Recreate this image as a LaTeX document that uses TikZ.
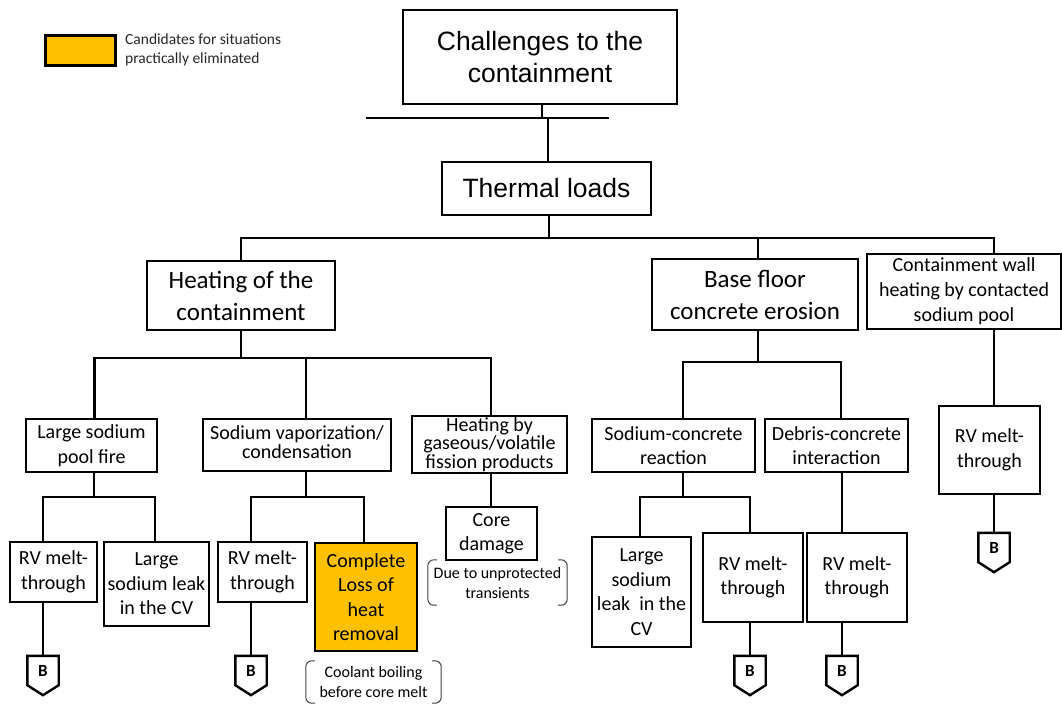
\documentclass[tikz,border=0pt]{standalone}
\usepackage{fontspec}
\setmainfont{Carlito}
\newfontfamily\arialfont{Liberation Sans}
\definecolor{amber}{HTML}{FFC000}
\begin{document}
\begin{tikzpicture}[x=1pt,y=-1pt,
  box/.style={draw, line width=2.8pt, inner sep=0pt, align=center, fill=white},
  small/.style={font=\fontsize{20}{24.5}\selectfont},
  tight/.style={font=\fontsize{20}{17}\selectfont},
  big/.style={font=\fontsize{25}{32}\selectfont},
  arialbig/.style={font=\arialfont\fontsize{26.5}{32}\selectfont},
  conn/.style={line width=2.2pt},
  bnode/.style={inner sep=0pt, minimum width=31pt, minimum height=29pt, font=\fontsize{17}{17}\selectfont\bfseries},
  bline/.style={line width=2.4pt, line join=miter},
  notetext/.style={inner sep=0pt, align=center, font=\fontsize{16}{20}\selectfont},
  bracket/.style={line width=1pt, draw=black!75, rounded corners=6pt},
  legendbox/.style={draw, line width=3pt, fill=amber, minimum width=70pt, minimum height=30pt, inner sep=0pt},
  legendtext/.style={inner sep=0pt, align=left, font=\fontsize{15.5}{19}\selectfont, text=black!85}
]
\useasboundingbox (0,0) rectangle (1062,704);

% legend
\node[legendbox] (leg) at (80,50) {};
\node[legendtext, anchor=west] (legt) at (125,50) {Candidates for situations\\practically eliminated};

% top levels
\node[box, line width=2.2pt, arialbig, minimum width=274pt, minimum height=94pt] (chal) at (540,57) {Challenges to the\\containment};
\node[box, arialbig, minimum width=209pt, minimum height=53pt] (therm) at (546.5,188.5) {Thermal loads};

\coordinate (barL) at (366,118);
\coordinate (barR) at (609,118);
\draw[conn] (barL) -- (barR);
\draw[conn] ([xshift=2pt]chal.south) -- ([xshift=2pt]chal.south |- barL);
\draw[conn] ([xshift=1.5pt]therm.north) -- ([xshift=1.5pt]therm.north |- barL);

% second level
\node[box, big, minimum width=188pt, minimum height=69pt] (heat) at (241,295.5) {Heating of the\\containment};
\node[box, big, minimum width=206pt, minimum height=71pt] (base) at (755,294.5) {Base floor\\concrete erosion};
\node[box, font=\fontsize{20}{25}\selectfont, minimum width=194pt, minimum height=75pt] (wall) at (964,291.5) {Containment wall\\heating by contacted\\sodium pool};

\coordinate (busA) at (0,238);
\draw[conn] (heat.north) -- (heat.north |- busA) -- ([xshift=30pt]wall.north |- busA) -- ([xshift=30pt]wall.north);
\draw[conn] ([xshift=2.5pt]therm.south) -- ([xshift=2.5pt]therm.south |- busA);
\draw[conn] ([xshift=3pt]base.north) -- ([xshift=3pt]base.north |- busA);

% third level
\node[box, small, minimum width=131pt, minimum height=53pt] (pool) at (91.5,445.5) {Large sodium\\pool fire};
\node[box, tight, minimum width=188pt, minimum height=52pt] (vap) at (297,445) {\raisebox{3pt}{\begin{tabular}{@{}c@{}}Sodium vaporization/\\condensation\end{tabular}}};
\node[box, tight, minimum width=155pt, minimum height=57pt] (gas) at (489.5,444.5) {Heating by\\gaseous/volatile\\fission products};
\node[box, small, minimum width=163pt, minimum height=53pt] (sconc) at (673.5,445.5) {Sodium-concrete\\reaction};
\node[box, small, minimum width=143pt, minimum height=53pt] (debris) at (836.5,445.5) {Debris-concrete\\interaction};

\coordinate (busB) at (0,358);
\draw[conn] (heat.south) -- (heat.south |- busB);
\draw[conn] ([xshift=3pt]pool.north) -- ([xshift=3pt]pool.north |- busB) -- ([xshift=1.5pt]gas.north |- busB) -- ([xshift=1.5pt]gas.north);
\draw[conn] ([xshift=9pt]vap.north) -- ([xshift=9pt]vap.north |- busB);

\coordinate (busC) at (0,362);
\draw[conn] ([xshift=3pt]base.south) -- ([xshift=3pt]base.south |- busC);
\draw[conn] ([xshift=9.5pt]sconc.north) -- ([xshift=9.5pt]sconc.north |- busC) -- ([xshift=4.5pt]debris.north |- busC) -- ([xshift=4.5pt]debris.north);

% fourth level
\node[box, small, minimum width=87pt, minimum height=60pt] (rv1) at (53.5,572) {RV melt-\\through};
\node[box, small, minimum width=105pt, minimum height=84pt] (leak1) at (156.5,584) {Large\\sodium leak\\in the CV};
\node[box, small, minimum width=89pt, minimum height=60pt] (rv2) at (262.5,572) {RV melt-\\through};
\node[box, small, fill=amber, minimum width=102pt, minimum height=108pt] (loss) at (366,597) {Complete\\Loss of\\heat\\removal};
\node[box, small, minimum width=91pt, minimum height=53pt] (core) at (491.5,533.5) {Core\\damage};
\node[box, small, minimum width=99pt, minimum height=110pt] (leak2) at (641.5,592) {Large\\sodium\\leak~ in the\\CV};
\node[box, small, minimum width=100pt, minimum height=89pt] (rv3) at (753,577.5) {RV melt-\\through};
\node[box, small, minimum width=100pt, minimum height=89pt] (rv4) at (857,577.5) {RV melt-\\through};
\node[box, small, minimum width=101pt, minimum height=88pt] (rv5) at (989.5,450) {RV melt-\\through};

\coordinate (busD) at (0,497);
\draw[conn] ([xshift=2.5pt]pool.south) -- ([xshift=2.5pt]pool.south |- busD);
\draw[conn] ([xshift=-10.5pt]rv1.north) -- ([xshift=-10.5pt]rv1.north |- busD) -- ([xshift=-1.5pt]leak1.north |- busD) -- ([xshift=-1.5pt]leak1.north);
\draw[conn] ([xshift=9pt]vap.south) -- ([xshift=9pt]vap.south |- busD);
\draw[conn] ([xshift=-11.5pt]rv2.north) -- ([xshift=-11.5pt]rv2.north |- busD) -- ([xshift=-2pt]loss.north |- busD) -- ([xshift=-2pt]loss.north);
\draw[conn] ([xshift=1.5pt]gas.south) -- ([xshift=1.5pt]gas.south |- core.north);
\draw[conn] ([xshift=9.5pt]sconc.south) -- ([xshift=9.5pt]sconc.south |- busD);
\draw[conn] ([xshift=-1.5pt]leak2.north) -- ([xshift=-1.5pt]leak2.north |- busD) -- ([xshift=-3pt]rv3.north |- busD) -- ([xshift=-3pt]rv3.north);
\draw[conn] ([xshift=-15pt]rv4.north) -- ([xshift=-15pt]rv4.north |- debris.south);
\draw[conn] ([xshift=4.5pt]rv5.north) -- ([xshift=4.5pt]rv5.north |- wall.south);

% B off-page connectors
\node[bnode] (b1) at (43,670.5) {B};
\node[bnode] (b2) at (251,670.5) {B};
\node[bnode] (b3) at (750,670.5) {B};
\node[bnode] (b4) at (842,670.5) {B};
\node[bnode] (b5) at (994,547.5) {B};
\foreach \n in {b1,b2,b3,b4,b5}
  \draw[bline] (\n.north west) -- (\n.north east) -- (\n.south east) -- ([yshift=-10pt]\n.south) -- (\n.south west) -- cycle;

\draw[conn] ([xshift=-10.5pt]rv1.south) -- (b1.north);
\draw[conn] ([xshift=-11.5pt]rv2.south) -- (b2.north);
\draw[conn] ([xshift=-3pt]rv3.south) -- (b3.north);
\draw[conn] ([xshift=-15pt]rv4.south) -- (b4.north);
\draw[conn] ([xshift=4.5pt]rv5.south) -- (b5.north);

% notes
\node[notetext, minimum width=139pt, minimum height=45pt] (n1) at (497.5,582.5) {Due to unprotected\\transients};
\node[notetext, minimum width=135pt, minimum height=42pt] (n2) at (373.5,682) {Coolant boiling\\before core melt};
\foreach \n in {n1,n2} {
  \draw[bracket] ([xshift=9pt]\n.north west) -- (\n.north west) -- (\n.south west) -- ([xshift=9pt]\n.south west);
  \draw[bracket] ([xshift=-9pt]\n.north east) -- (\n.north east) -- (\n.south east) -- ([xshift=-9pt]\n.south east);
}
\end{tikzpicture}
\end{document}
